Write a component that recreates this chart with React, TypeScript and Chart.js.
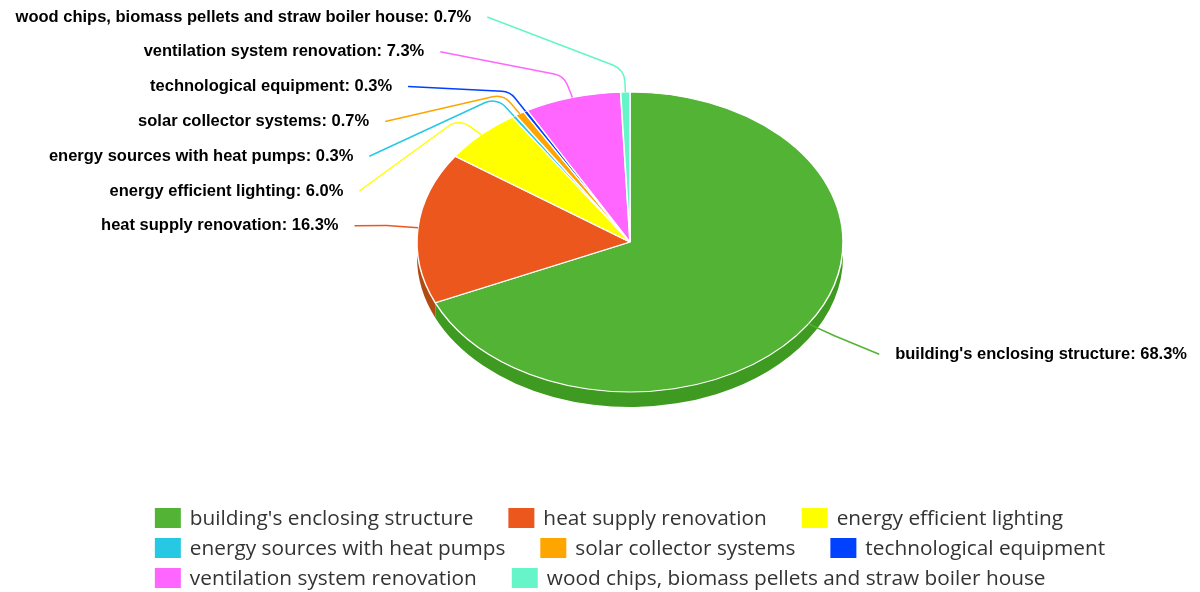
import React, { useEffect, useRef } from "react";
import { Chart, registerables } from "chart.js";

Chart.register(...registerables);

const categories = [
  "building's enclosing structure",
  "heat supply renovation",
  "energy efficient lighting",
  "energy sources with heat pumps",
  "solar collector systems",
  "technological equipment",
  "ventilation system renovation",
  "wood chips, biomass pellets and straw boiler house",
];
const shares = [68.3, 16.3, 6.0, 0.3, 0.7, 0.3, 7.3, 0.7];
const sliceColors = [
  "#52B335",
  "#EC571E",
  "#FFFF00",
  "#26C8E4",
  "#FFA500",
  "#0040FF",
  "#FF66FF",
  "#66F5C8",
];

const W = 1200;
const H = 592;
const TILT = 150 / 213;
const DEPTH = 15;
const LABEL_OFFSET = 79;
const LABEL_GAP = 34.8;
const LABEL_TOP = 17;
const LABEL_FONT = "bold 16.5px 'Liberation Sans', Arial, sans-serif";
const LEGEND_FONT = "20.8px 'Open Sans', sans-serif";

function sideColor(hex: string) {
  const n = parseInt(hex.slice(1), 16);
  const r = Math.round(((n >> 16) & 255) * 0.75);
  const g = Math.round(((n >> 8) & 255) * 0.86);
  const b = Math.round((n & 255) * 0.6);
  return `rgb(${r},${g},${b})`;
}

const pie3d = {
  id: "pie3d",
  beforeDatasetsDraw(chart: any) {
    const ctx = chart.ctx;
    const arcs = chart.getDatasetMeta(0).data;
    if (!arcs.length) return;
    const { x: cx, y: cy, outerRadius: r } = arcs[0];
    ctx.save();
    arcs.forEach((arc: any, i: number) => {
      const ranges = [
        [arc.startAngle, arc.endAngle],
        [arc.startAngle - Math.PI * 2, arc.endAngle - Math.PI * 2],
        [arc.startAngle + Math.PI * 2, arc.endAngle + Math.PI * 2],
      ];
      ranges.forEach(([a, b]) => {
        const s = Math.max(a, 0);
        const e = Math.min(b, Math.PI);
        if (e <= s) return;
        ctx.beginPath();
        ctx.ellipse(cx, cy, r, r * TILT, 0, s, e, false);
        ctx.ellipse(cx, cy + DEPTH, r, r * TILT, 0, e, s, true);
        ctx.closePath();
        ctx.fillStyle = sideColor(sliceColors[i]);
        ctx.fill();
      });
    });
    ctx.restore();
    ctx.save();
    ctx.translate(0, cy);
    ctx.scale(1, TILT);
    ctx.translate(0, -cy);
  },
  afterDatasetsDraw(chart: any) {
    const ctx = chart.ctx;
    ctx.restore();
    const arcs = chart.getDatasetMeta(0).data;
    if (!arcs.length) return;
    const { x: cx, y: cy, outerRadius: r } = arcs[0];
    const ra = r + LABEL_OFFSET;
    const rb = ra * 0.918;
    const items = arcs.map((arc: any, i: number) => {
      const mid = (arc.startAngle + arc.endAngle) / 2;
      const ux = Math.cos(mid);
      const uy = Math.sin(mid);
      return { i, ux, uy, side: ux < 0 ? -1 : 1, ny: cy + uy * ra * TILT, y: 0 };
    });
    [-1, 1].forEach((side) => {
      const list = items.filter((it: any) => it.side === side).sort((a: any, b: any) => a.ny - b.ny);
      const clusters = list.map((it: any) => ({ items: [it], sum: it.ny }));
      const start = (c: any) =>
        Math.max(LABEL_TOP, c.sum / c.items.length - ((c.items.length - 1) * LABEL_GAP) / 2);
      let merged = true;
      while (merged) {
        merged = false;
        for (let k = 0; k < clusters.length - 1; k++) {
          const a = clusters[k];
          const b = clusters[k + 1];
          if (start(a) + a.items.length * LABEL_GAP > start(b)) {
            clusters.splice(k, 2, { items: a.items.concat(b.items), sum: a.sum + b.sum });
            merged = true;
            break;
          }
        }
      }
      clusters.forEach((c: any) => {
        const s0 = start(c);
        c.items.forEach((it: any, j: number) => (it.y = s0 + j * LABEL_GAP));
      });
    });
    ctx.save();
    ctx.font = LABEL_FONT;
    ctx.textBaseline = "middle";
    items.forEach((it: any) => {
      const dy = it.y - cy;
      const f = Math.sqrt(Math.max(0, 1 - (dy / rb) * (dy / rb)));
      const lx = cx + it.side * ra * f;
      const text = `${chart.data.labels[it.i]}: ${chart.data.datasets[0].data[it.i].toFixed(1)}%`;
      ctx.fillStyle = "#000";
      ctx.textAlign = it.side < 0 ? "right" : "left";
      ctx.fillText(text, lx, it.y);
      const ax = lx - it.side * 16;
      const bx = cx + it.ux * r * 1.15;
      const by = cy + it.uy * r * 1.15 * TILT;
      const ex = cx + it.ux * r;
      const ey = cy + it.uy * r * TILT;
      ctx.beginPath();
      ctx.moveTo(ax, it.y);
      ctx.arcTo(bx, by, ex, ey, 18);
      ctx.lineTo(ex, ey);
      ctx.strokeStyle = sliceColors[it.i];
      ctx.lineWidth = 1.5;
      ctx.stroke();
    });
    ctx.restore();
  },
  afterDraw(chart: any) {
    const ctx = chart.ctx;
    const arcs = chart.getDatasetMeta(0).data;
    const cx = arcs.length ? arcs[0].x : W / 2;
    ctx.save();
    ctx.font = LEGEND_FONT;
    ctx.textBaseline = "middle";
    const labels: string[] = chart.data.labels;
    const BOX_W = 26;
    const BOX_H = 20;
    const TEXT_PAD = 9;
    const ITEM_GAP = 35;
    const widths = labels.map((l) => BOX_W + TEXT_PAD + ctx.measureText(l).width);
    const perRow = 3;
    const rows: number[][] = [];
    for (let i = 0; i < labels.length; i += perRow) {
      rows.push(labels.slice(i, i + perRow).map((_, j) => i + j));
    }
    const rowW = rows.map((row) => row.reduce((s, k) => s + widths[k], 0) + (row.length - 1) * ITEM_GAP);
    const x0 = cx - Math.max(...rowW) / 2;
    rows.forEach((row, ri) => {
      const y = H - 74 + ri * 30;
      let x = x0;
      row.forEach((k) => {
        ctx.fillStyle = sliceColors[k];
        ctx.fillRect(x, y - BOX_H / 2, BOX_W, BOX_H);
        ctx.fillStyle = "#333";
        ctx.textAlign = "left";
        ctx.fillText(labels[k], x + BOX_W + TEXT_PAD, y + 1);
        x += widths[k] + ITEM_GAP;
      });
    });
    ctx.restore();
  },
};

export default function App() {
  const ref = useRef<HTMLCanvasElement>(null);
  useEffect(() => {
    document.body.style.margin = "0";
    const chart = new Chart(ref.current as HTMLCanvasElement, {
      type: "pie",
      data: {
        labels: categories,
        datasets: [
          {
            data: shares,
            backgroundColor: sliceColors,
            borderColor: "#ffffff",
            borderWidth: 1.5,
            radius: 213,
            clip: false,
          } as any,
        ],
      },
      options: {
        responsive: false,
        animation: false,
        events: [],
        layout: { padding: { left: 300, right: 240, top: 29, bottom: 137 } },
        plugins: { legend: { display: false }, tooltip: { enabled: false } },
      },
      plugins: [pie3d],
    });
    return () => chart.destroy();
  }, []);
  return (
    <div style={{ width: W, height: H, background: "#fff" }}>
      <canvas ref={ref} width={W} height={H} style={{ display: "block" }} />
    </div>
  );
}
